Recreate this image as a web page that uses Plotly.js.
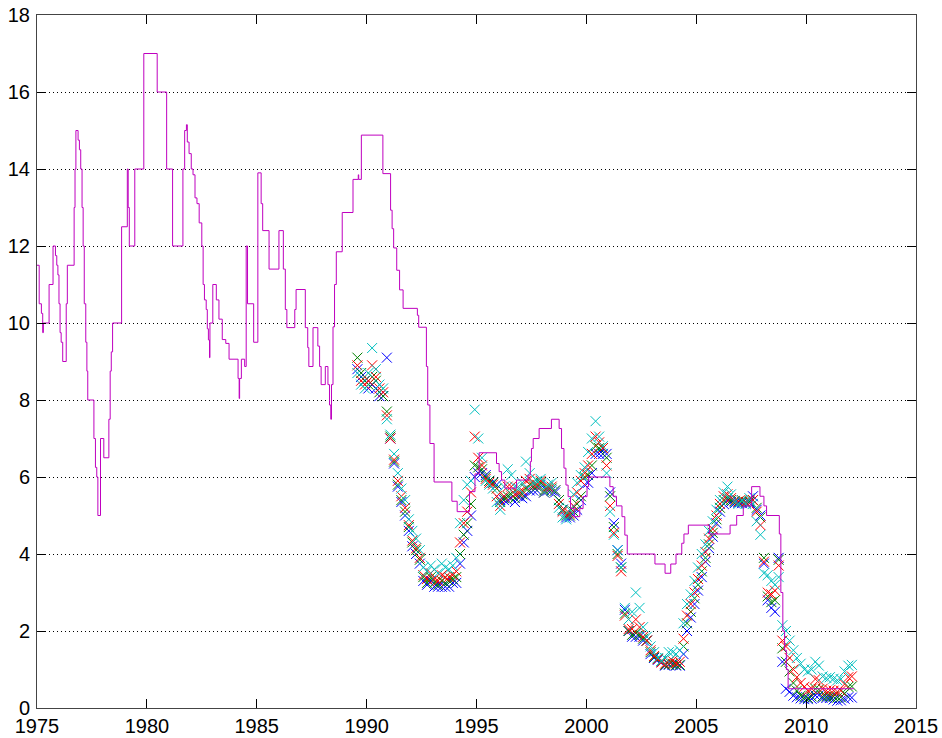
<!DOCTYPE html>
<html>
<head>
<meta charset="utf-8">
<script src="https://cdn.plot.ly/plotly-3.0.1.min.js"></script>
<style>html,body{margin:0;padding:0;background:#fff;}#chart{width:942px;height:738px;}</style>
</head>
<body>
<div id="chart"></div>
<script>
// Step line (policy rate), change dates and levels
const lineYears = [
1975.00,1975.10,1975.20,1975.26,1975.29,1975.55,1975.73,1975.84,1975.90,1975.95,
1976.00,1976.05,1976.10,1976.17,1976.33,1976.38,1976.69,1976.73,1976.77,1976.87,
1976.93,1976.99,1977.05,1977.10,1977.15,1977.22,1977.27,1977.31,1977.59,1977.66,
1977.72,1977.77,1977.89,1978.04,1978.27,1978.33,1978.38,1978.44,1978.85,1979.11,
1979.15,1979.20,1979.45,1979.86,1980.47,1980.90,1981.17,1981.64,1981.72,1981.80,
1981.84,1981.92,1982.02,1982.10,1982.19,1982.28,1982.38,1982.50,1982.56,1982.62,
1982.70,1982.75,1982.80,1982.85,1982.87,1983.00,1983.16,1983.28,1983.43,1983.59,
1983.74,1984.15,1984.20,1984.22,1984.30,1984.45,1984.52,1984.58,1984.86,1985.05,
1985.20,1985.27,1985.56,1986.01,1986.21,1986.30,1986.37,1986.73,1986.79,1987.21,
1987.32,1987.37,1987.56,1987.78,1987.86,1987.93,1988.12,1988.24,1988.31,1988.37,
1988.40,1988.47,1988.54,1988.62,1988.89,1989.38,1989.62,1989.64,1989.76,1990.74,
1991.09,1991.16,1991.23,1991.37,1991.50,1991.66,1992.31,1992.37,1992.72,1992.78,
1992.88,1993.07,1993.88,1994.12,1994.68,1994.93,1995.12,1995.91,1996.03,1996.14,
1996.29,1996.82,1997.35,1997.45,1997.50,1997.58,1997.85,1998.41,1998.76,1998.87,
1998.98,1999.07,1999.17,1999.28,1999.45,1999.70,1999.85,2000.03,2000.10,2001.07,
2001.22,2001.37,2001.62,2001.75,2001.86,2003.12,2003.58,2003.84,2004.08,2004.34,
2004.44,2004.64,2005.60,2006.54,2006.84,2007.14,2007.52,2007.90,2008.08,2008.20,
2008.78,2008.85,2008.94,2009.02,2009.10,2009.18,2012.17];
const lineRates = [
11.5,10.5,10.25,9.75,10.0,11.0,12.0,11.75,11.5,11.25,
10.5,9.75,9.5,9.0,10.5,11.5,13.0,14.0,15.0,14.75,
14.5,14.0,13.0,12.0,10.5,9.5,8.75,8.0,7.0,6.25,
6.0,5.0,7.0,6.5,7.5,8.75,9.25,10.0,12.5,14.0,
13.0,12.0,14.0,17.0,16.0,14.0,12.0,14.0,15.0,15.15,
14.7,14.4,14.0,13.85,13.25,13.1,12.6,12.0,11.0,10.6,
10.35,9.85,9.56,9.1,10.0,11.0,10.6,10.1,9.57,9.47,
9.06,8.56,8.04,8.56,9.06,8.87,12.0,10.5,9.5,13.9,
13.1,12.4,11.4,12.4,11.4,10.35,9.88,10.35,10.87,9.88,
9.36,8.87,9.88,9.4,8.87,8.4,8.87,8.4,7.87,7.5,
8.4,9.9,11.0,11.85,12.87,13.73,13.85,13.73,14.88,13.88,
12.93,12.45,11.95,11.37,10.86,10.38,10.2,9.89,8.87,7.87,
6.87,5.87,5.37,5.1,5.62,6.08,6.63,6.35,6.14,5.92,
5.71,5.92,6.05,6.4,6.74,7.0,7.26,7.5,7.26,6.74,
6.23,5.79,5.49,5.18,4.97,5.18,5.49,5.75,6.0,5.75,
5.5,5.25,4.97,4.49,4.0,3.74,3.5,3.74,4.0,4.28,
4.52,4.75,4.52,4.75,5.0,5.25,5.75,5.5,5.25,5.0,
4.52,3.0,2.0,1.5,1.0,0.5,0.5];

// Observation dates for the market rates (x markers)
const obsDates = [
1989.58,1989.75,1989.92,
1990.08,1990.25,1990.42,1990.58,1990.75,1990.92,
1991.08,1991.25,1991.42,1991.58,1991.75,1991.92,
1992.08,1992.25,1992.42,1992.58,1992.75,1992.92,
1993.08,1993.25,1993.42,1993.58,1993.75,1993.92,
1994.08,1994.25,1994.42,1994.58,1994.75,1994.92,
1995.08,1995.25,1995.42,1995.58,1995.75,1995.92,
1996.08,1996.25,1996.42,1996.58,1996.75,1996.92,
1997.08,1997.25,1997.42,1997.58,1997.75,1997.92,
1998.08,1998.25,1998.42,1998.58,1998.75,1998.92,
1999.08,1999.25,1999.42,1999.58,1999.75,1999.92,
2000.08,2000.25,2000.42,2000.58,2000.75,2000.92,
2001.08,2001.25,2001.42,2001.58,2001.75,2001.92,
2002.08,2002.25,2002.42,2002.58,2002.75,2002.92,
2003.08,2003.25,2003.42,2003.58,2003.75,2003.92,
2004.08,2004.25,2004.42,2004.58,2004.75,2004.92,
2005.08,2005.25,2005.42,2005.58,2005.75,2005.92,
2006.08,2006.25,2006.42,2006.58,2006.75,2006.92,
2007.08,2007.25,2007.42,2007.58,2007.75,2007.92,
2008.08,2008.25,2008.42,2008.58,2008.75,2008.92,
2009.08,2009.25,2009.42,2009.58,2009.75,2009.92,
2010.08,2010.25,2010.42,2010.58,2010.75,2010.92,
2011.08,2011.25,2011.42,2011.58,2011.75,2011.92,
2012.08];

const seriesBlue = [
8.8,8.6,8.5,
8.3,8.4,8.3,8.1,8.1,9.1,
7.0,6.35,5.75,5.35,5.0,4.6,
4.2,4.0,3.75,3.3,3.2,3.3,
3.15,3.15,3.15,3.15,3.15,3.25,
3.25,3.75,4.3,4.6,5.0,6.0,
6.1,6.1,6.05,5.9,5.85,5.8,
5.4,5.4,5.4,5.45,5.35,5.5,
5.45,5.5,5.65,5.65,5.65,5.8,
5.6,5.65,5.65,5.6,5.4,5.15,
4.95,4.95,5.0,5.15,5.4,5.8,
5.85,6.1,6.6,6.6,6.6,6.6,
5.6,4.8,4.1,3.75,2.55,2.0,
1.85,1.85,1.85,1.75,1.75,1.4,
1.3,1.25,1.2,1.1,1.12,1.12,
1.1,1.1,1.4,2.0,2.35,2.7,
3.05,3.4,3.8,4.15,4.45,4.8,
5.1,5.3,5.4,5.35,5.32,5.33,
5.32,5.32,5.32,5.5,5.15,5.0,
3.75,2.8,2.6,2.5,3.9,1.2,
0.5,0.42,0.32,0.28,0.25,0.23,
0.23,0.24,0.33,0.33,0.26,0.26,
0.26,0.22,0.19,0.2,0.24,0.28,
0.27];

const seriesGreen = [
9.1,8.7,8.5,
8.4,8.6,8.5,8.2,8.1,7.7,
7.05,6.4,5.8,5.4,5.1,4.7,
4.3,4.1,3.85,3.4,3.25,3.4,
3.25,3.2,3.3,3.25,3.3,3.35,
3.4,4.0,4.5,4.8,5.3,6.3,
6.25,6.2,6.0,5.9,5.85,5.7,
5.35,5.45,5.5,5.55,5.45,5.55,
5.55,5.7,5.8,5.75,5.75,5.85,
5.65,5.7,5.7,5.65,5.4,5.15,
5.0,5.0,5.1,5.3,5.5,6.0,
6.05,6.3,6.8,6.75,6.75,6.5,
5.5,4.7,4.0,3.65,2.45,2.0,
1.9,1.95,1.9,1.8,1.75,1.45,
1.32,1.28,1.22,1.12,1.14,1.15,
1.12,1.12,1.6,2.2,2.5,2.85,
3.2,3.55,3.9,4.25,4.55,4.9,
5.2,5.4,5.45,5.4,5.37,5.36,
5.36,5.35,5.36,5.4,5.2,4.95,
3.9,2.9,2.75,2.8,3.85,1.55,
1.2,0.95,0.65,0.45,0.32,0.28,
0.26,0.3,0.5,0.48,0.3,0.3,
0.3,0.3,0.27,0.28,0.38,0.55,
0.56];

const seriesRed = [
8.9,8.5,8.4,
8.5,8.9,8.6,8.3,8.2,7.6,
7.0,6.45,5.9,5.5,5.2,4.75,
4.35,4.15,3.9,3.45,3.35,3.5,
3.35,3.3,3.45,3.4,3.4,3.45,
3.55,4.3,4.8,5.1,5.6,7.05,
6.5,6.3,5.95,5.85,5.8,5.5,
5.25,5.5,5.75,5.75,5.55,5.6,
5.65,5.9,5.95,5.8,5.8,5.9,
5.6,5.75,5.75,5.65,5.3,5.1,
5.05,5.05,5.25,5.6,5.9,6.1,
6.3,6.6,7.05,6.9,6.75,6.3,
5.25,4.55,3.95,3.55,2.4,2.05,
2.05,2.3,2.1,1.85,1.75,1.5,
1.35,1.27,1.18,1.15,1.2,1.23,
1.17,1.2,1.8,2.4,2.7,3.0,
3.35,3.7,4.05,4.4,4.65,5.0,
5.3,5.5,5.55,5.45,5.38,5.37,
5.4,5.35,5.4,5.4,5.1,4.75,
3.8,3.0,2.95,3.05,3.7,1.75,
1.6,1.3,1.0,0.8,0.65,0.55,
0.45,0.5,0.75,0.72,0.5,0.45,
0.46,0.45,0.42,0.45,0.62,0.8,
0.82];

const seriesCyan = [
8.7,8.4,8.3,
8.7,9.35,8.8,8.4,8.3,7.5,
7.1,6.6,6.1,5.7,5.4,4.9,
4.6,4.4,4.1,3.65,3.55,3.7,
3.6,3.5,3.75,3.65,3.6,3.7,
3.9,4.8,5.4,5.8,5.9,7.75,
7.0,6.5,5.9,5.8,5.7,5.35,
5.15,5.75,6.2,6.05,5.75,5.7,
5.85,6.4,6.1,5.85,5.9,5.95,
5.6,5.8,5.85,5.65,5.2,4.95,
4.9,5.15,5.55,5.85,6.05,6.25,
6.65,7.0,7.45,7.05,6.8,6.1,
5.1,4.5,4.1,3.65,2.6,2.3,
2.5,3.0,2.6,2.1,1.85,1.6,
1.45,1.3,1.22,1.3,1.45,1.45,
1.4,1.5,2.2,2.7,2.95,3.3,
3.65,4.0,4.25,4.6,4.85,5.15,
5.4,5.6,5.75,5.55,5.35,5.3,
5.4,5.3,5.45,5.3,4.85,4.5,
3.5,3.45,3.3,3.2,3.4,2.15,
2.0,1.75,1.5,1.3,1.15,1.0,
0.95,1.0,1.2,1.1,0.82,0.78,
0.8,0.76,0.72,0.75,0.95,1.1,
1.12];

const xTicks = [1975,1980,1985,1990,1995,2000,2005,2010,2015];
const yTicks = [0,2,4,6,8,10,12,14,16,18];

const markerSeries = [
  {y: seriesBlue,  color: '#0000ff'},
  {y: seriesGreen, color: '#008000'},
  {y: seriesRed,   color: '#ff0000'},
  {y: seriesCyan,  color: '#00bfbf'}
];

const traces = markerSeries.map(s => ({
  x: obsDates, y: s.y, type: 'scatter', mode: 'markers',
  marker: {symbol: 'x-thin', size: 10, color: s.color, line: {color: s.color, width: 1}},
  hoverinfo: 'skip', showlegend: false
}));
traces.push({
  x: lineYears, y: lineRates, type: 'scatter', mode: 'lines',
  line: {shape: 'hv', color: '#bf00bf', width: 1},
  hoverinfo: 'skip', showlegend: false
});

const axisFont = {family: 'Liberation Sans, Arial, sans-serif', size: 20, color: '#000'};
const layout = {
  width: 942, height: 738,
  margin: {l: 37, r: 26, t: 15, b: 30, pad: 0},
  paper_bgcolor: '#fff', plot_bgcolor: '#fff',
  showlegend: false,
  xaxis: {
    range: [1975, 2015], tickmode: 'array', tickvals: xTicks, ticktext: xTicks.map(String),
    ticks: 'inside', ticklen: 9, tickwidth: 1, tickcolor: '#000',
    showline: true, linecolor: '#444', linewidth: 1, mirror: 'ticks',
    showgrid: false, zeroline: false, tickfont: axisFont, automargin: false,
    ticklabelstandoff: 0
  },
  yaxis: {
    range: [0, 18], tickmode: 'array', tickvals: yTicks, ticktext: yTicks.map(String),
    ticks: 'inside', ticklen: 9, tickwidth: 1, tickcolor: '#000',
    showline: true, linecolor: '#444', linewidth: 1, mirror: 'ticks',
    showgrid: true, gridcolor: '#000', gridwidth: 1, griddash: '1px,3px',
    zeroline: false, tickfont: axisFont, automargin: false, ticklabelstandoff: 2
  }
};
Plotly.newPlot('chart', traces, layout, {staticPlot: true, displayModeBar: false});
</script>
</body>
</html>
